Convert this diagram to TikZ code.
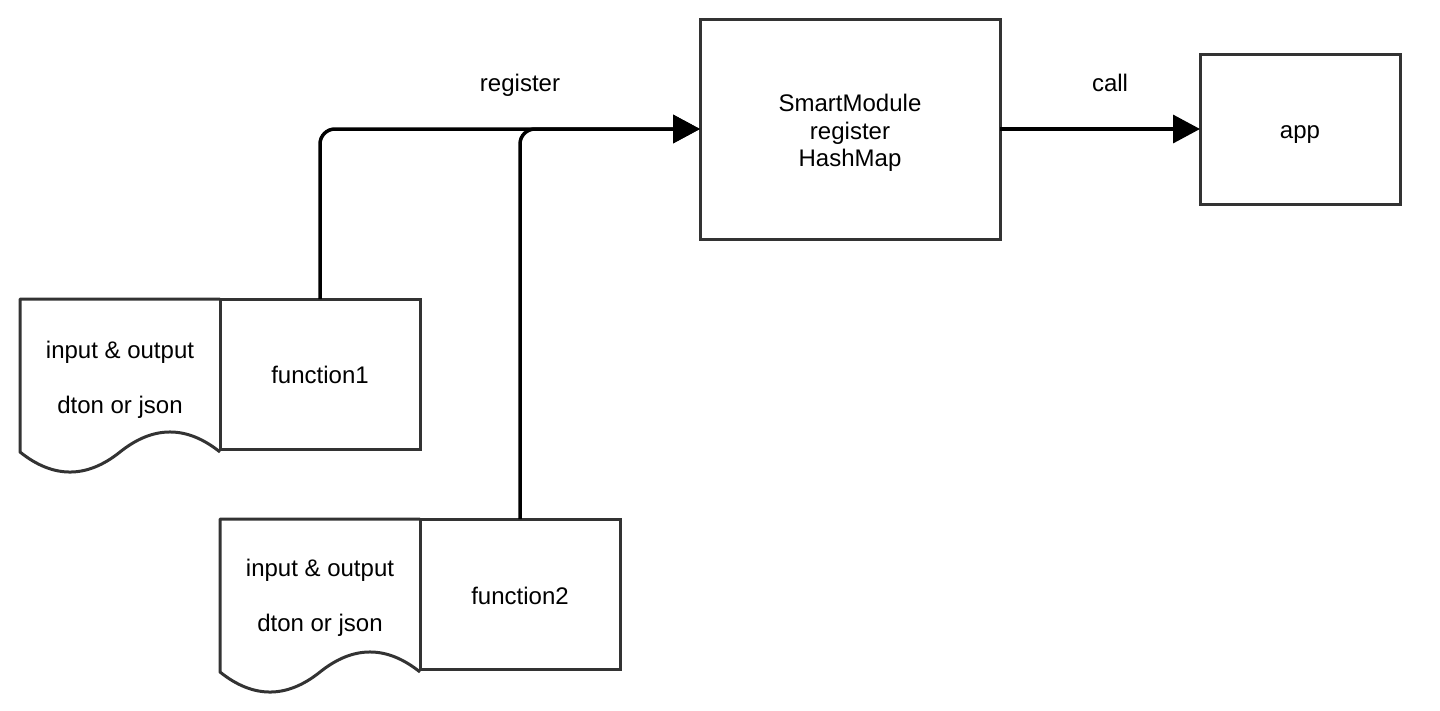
\documentclass[tikz,border=0pt]{standalone}
\usepackage{fontspec}
\setmainfont{Liberation Sans}
\usetikzlibrary{arrows.meta}
\definecolor{edge}{HTML}{333333}
\begin{document}
\begin{tikzpicture}[x=1pt,y=-1pt,
  font=\fontsize{24}{24}\selectfont,
  box/.style={draw=edge,line width=3pt,minimum width=#1,inner sep=0pt,outer sep=0pt,align=center},
  lbl/.style={inner sep=0pt,text height=17.5pt,text depth=5pt},
  conn/.style={line width=3.5pt,black,rounded corners=15pt,-{Triangle[length=27pt,width=28pt]}},
  docshape/.style={draw=edge,line width=3pt,line join=round}]
\useasboundingbox (0,0) rectangle (1440,710);
% main boxes
\node[box=300pt,minimum height=220pt] (sm) at (850,129) {};
\node[inner sep=0pt,align=center,font=\fontsize{24}{27.5}\selectfont] (smt) at (850,133) {SmartModule\\register\\HashMap};
\node[box=200pt,minimum height=150pt] (app) at (1300,129) {};
\node[lbl] (appt) at (1300,132) {app};
% function 1
\node[box=200pt,minimum height=150pt] (f1) at (320,374) {};
\node[lbl] (f1t) at (320,377) {function1};
\draw[docshape] (f1.north west) -- (20,299) -- (20,452)
  .. controls (53.3,478.7) and (86.7,478.7) .. (120,452)
  .. controls (153.3,425.3) and (186.7,425.3) .. (220,452);
\node[lbl] (d1a) at (120,352) {input \& output};
\node[lbl] (d1b) at (120,407) {dton or json};
% function 2
\node[box=200pt,minimum height=150pt] (f2) at (520,594) {};
\node[lbl] (f2t) at (520,598) {function2};
\draw[docshape] (f2.north west) -- (220,519) -- (220,672)
  .. controls (253.3,698.7) and (286.7,698.7) .. (320,672)
  .. controls (353.3,645.3) and (386.7,645.3) .. (420,672);
\node[lbl] (d2a) at (320,570) {input \& output};
\node[lbl] (d2b) at (320,625) {dton or json};
% connectors
\draw[conn] (f1.north) |- (sm.west);
\draw[conn] (f2.north) |- (sm.west);
\draw[conn] (sm.east) -- (app.west);
\node[lbl] (reg) at (520,85) {register};
\node[lbl] (call) at (1110,85) {call};
\end{tikzpicture}
\end{document}
